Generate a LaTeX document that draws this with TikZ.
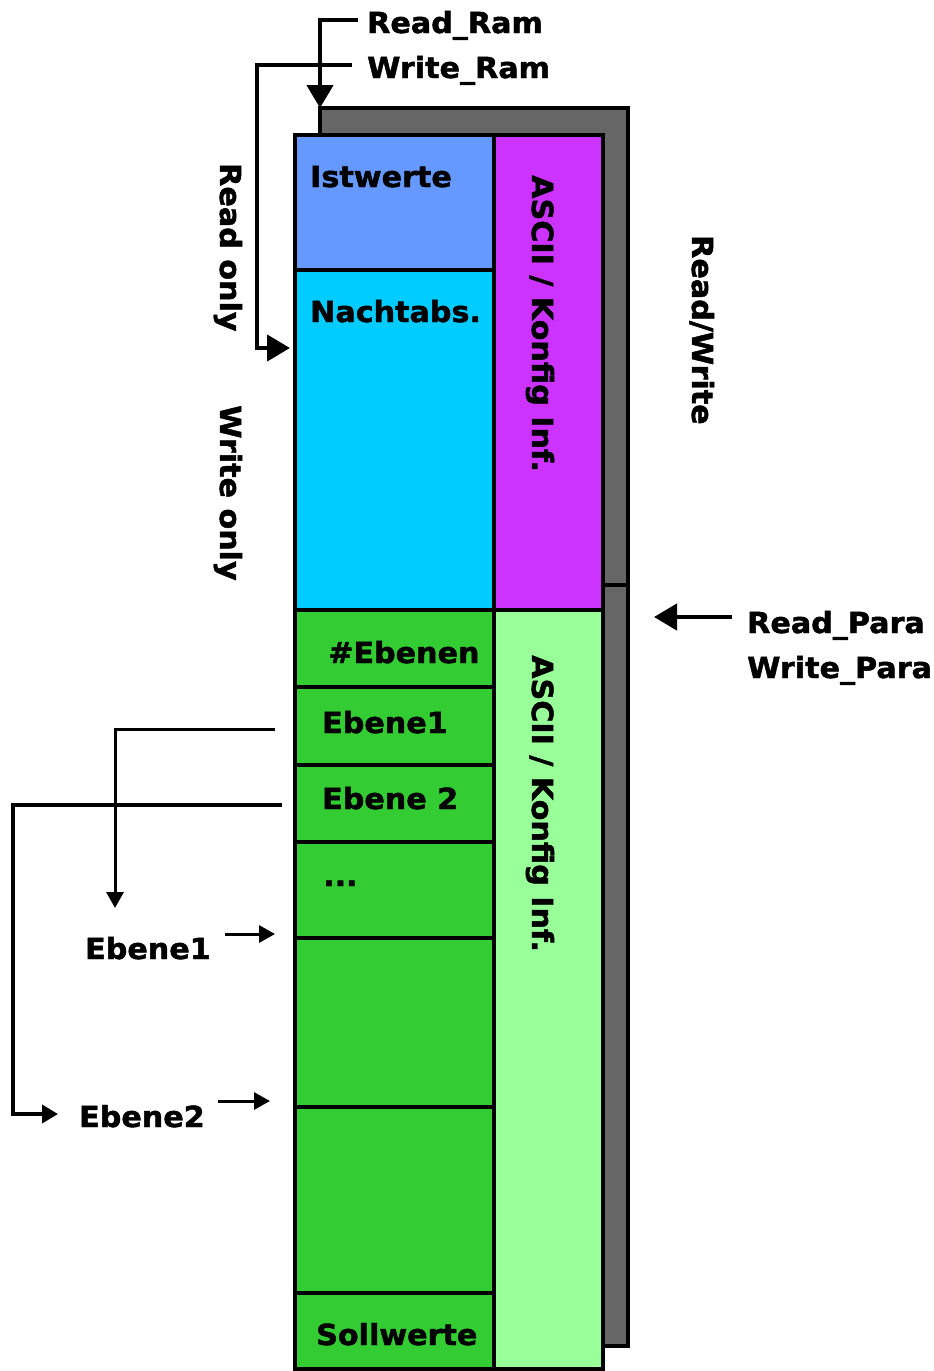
\documentclass[tikz,border=0pt]{standalone}
\usepackage{fontspec}
\setmainfont{DejaVu Sans}[FakeStretch=1.04,FakeBold=1.6]
\usetikzlibrary{arrows.meta}
\definecolor{istc}{HTML}{6699FF}
\definecolor{nachtc}{HTML}{00CCFF}
\definecolor{purpc}{HTML}{CC33FF}
\definecolor{greenc}{HTML}{33CC33}
\definecolor{lgreenc}{HTML}{99FF99}
\definecolor{grayc}{HTML}{666666}
\tikzset{
  lbl/.style={font=\fontsize{29}{34}\selectfont\bfseries, inner sep=0pt, anchor=base west},
  vlbl/.style={lbl, rotate=-90},
  box/.style={draw=black, line width=4pt},
  conn/.style={line width=4.5pt, -{Triangle[length=23pt,width=26pt]}},
  thinconn/.style={line width=3pt, -{Triangle[length=16pt,width=17pt]}},
  midconn/.style={line width=3.8pt, -{Triangle[length=16pt,width=18pt]}},
}
\begin{document}
\begin{tikzpicture}[x=1pt,y=-1pt]
\useasboundingbox (0,0) rectangle (934,1371);
% back gray boxes
\filldraw[box, line width=4.5pt, fill=grayc] (320,108) rectangle (628,585);
\filldraw[box, line width=4.5pt, fill=grayc] (320,585) rectangle (628,1346);
% front columns
\filldraw[box, fill=istc] (295,135) rectangle (494,270);
\filldraw[box, fill=nachtc] (295,270) rectangle (494,610);
\filldraw[box, fill=purpc] (494,135) rectangle (603,610);
\filldraw[box, fill=greenc] (295,610) rectangle (494,687);
\filldraw[box, fill=greenc] (295,687) rectangle (494,765);
\filldraw[box, fill=greenc] (295,765) rectangle (494,842);
\filldraw[box, fill=greenc] (295,842) rectangle (494,938);
\filldraw[box, fill=greenc] (295,938) rectangle (494,1107);
\filldraw[box, fill=greenc] (295,1107) rectangle (494,1293);
\filldraw[box, fill=greenc] (295,1293) rectangle (494,1369);
\filldraw[box, fill=lgreenc] (494,610) rectangle (603,1369);
% texts
\node[lbl] (treadram) at (367,33) {Read\_Ram};
\node[lbl] (twriteram) at (367,78) {Write\_Ram};
\node[lbl] (tist) at (310,187) {Istwerte};
\node[lbl] (tnacht) at (310,322) {Nachtabs.};
\node[lbl] (tanz) at (328,663) {\#Ebenen};
\node[lbl] (te1) at (322,733) {Ebene1};
\node[lbl] (te2) at (322,809) {Ebene 2};
\node[lbl] (tdots) at (323,886) {...};
\node[lbl] (tsoll) at (316,1345) {Sollwerte};
\node[lbl] (tle1) at (85,959) {Ebene1};
\node[lbl] (tle2) at (79,1127) {Ebene2};
\node[lbl] (trp) at (747,633) {Read\_Para};
\node[lbl] (twp) at (747,678) {Write\_Para};
\node[vlbl] (tro) at (220,163) {Read only};
\node[vlbl] (two) at (220,405) {Write only};
\node[vlbl] (trw) at (692,235) {Read/Write};
\node[vlbl] (tasciia) at (532,175) {ASCII / Konfig Inf.};
\node[vlbl] (tasciib) at (532,655) {ASCII / Konfig Inf.};
% connector points
\coordinate (rrS) at (358,20);
\coordinate (rrT) at (320,108);
\coordinate (wrS) at (352,65);
\coordinate (wrC) at (257,348);
\coordinate (wrT) at (290,348);
\coordinate (rpS) at (732,617);
\coordinate (rpT) at (654,617);
\coordinate (eaS) at (275,729);
\coordinate (eaT) at (115,908);
\coordinate (ebS) at (282,805);
\coordinate (ebC) at (13,1114);
\coordinate (ebT) at (58,1114);
\coordinate (saS) at (225,934);
\coordinate (saT) at (275,934);
\coordinate (sbS) at (218,1101);
\coordinate (sbT) at (270,1101);
% connectors
\draw[conn] (rrS) -| (rrT);
\draw[conn] (wrS) -| (wrC) -- (wrT);
\draw[conn] (rpS) -- (rpT);
\draw[thinconn] (eaS) -| (eaT);
\draw[midconn] (ebS) -| (ebC) -- (ebT);
\draw[thinconn] (saS) -- (saT);
\draw[thinconn] (sbS) -- (sbT);
\end{tikzpicture}
\end{document}
